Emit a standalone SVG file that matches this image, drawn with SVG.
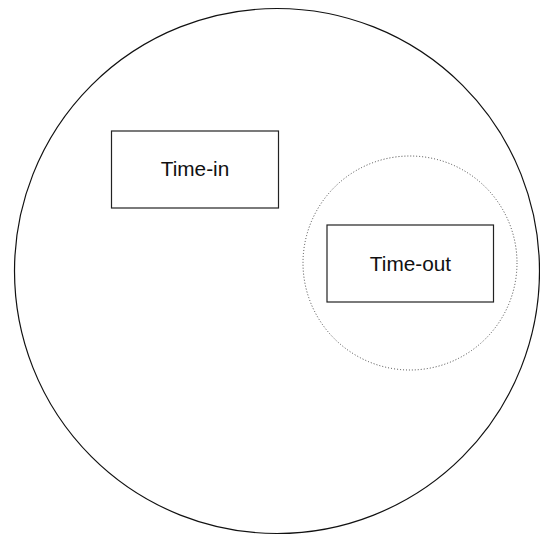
<svg xmlns="http://www.w3.org/2000/svg" width="540" height="535" viewBox="0 0 540 535">
<style>
.box{fill:#fff;stroke:#222;stroke-width:1.2}
.lbl{font-family:"Liberation Sans",Arial,sans-serif;font-size:20.8px;fill:#111;text-anchor:middle}
</style>
<rect width="540" height="535" fill="#fff"/>
<g id="outer"><circle cx="277" cy="271" r="262.5" fill="none" stroke="#111" stroke-width="1.2"/></g>
<g id="scope"><circle cx="410" cy="263" r="107" fill="none" stroke="#444" stroke-width="1" stroke-dasharray="1 2"/></g>
<g id="time-in"><rect class="box" x="111.5" y="131" width="167" height="77"/><text class="lbl" x="195" y="176">Time-in</text></g>
<g id="time-out"><rect class="box" x="327" y="225" width="166.5" height="77"/><text class="lbl" x="410.5" y="270.5">Time-out</text></g>
<g id="connectors"/>
</svg>
